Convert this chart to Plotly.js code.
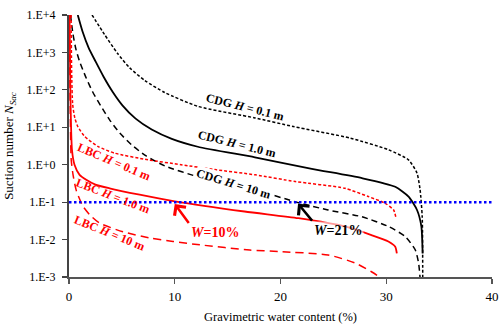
<!DOCTYPE html>
<html>
<head>
<meta charset="utf-8">
<script src="https://cdn.plot.ly/plotly-3.0.1.min.js"></script>
<style>html,body{margin:0;padding:0;background:#fff;}#chart{width:500px;height:327px;}</style>
</head>
<body>
<div id="chart"></div>
<script>
// Gravimetric water content (%) and suction number values
const cdg01X = [2.18, 3.36, 4.60, 5.73, 7.16, 9.05, 12.18, 17.58, 21.2, 26.6, 30.2, 32.1, 32.9, 33.2, 33.4, 33.45];
const cdg01Y = [10000, 3020, 933, 389, 178, 85.1, 36.3, 17.8, 10.5, 5.13, 2.51, 1.35, 0.603, 0.214, 0.0407, 0.001];

const cdg10X = [0.83, 1.28, 1.85, 2.51, 3.27, 4.12, 5.07, 6.30, 7.82, 9.72, 12.18, 17.58, 22.96, 27.7, 30.85, 32.11, 32.91, 33.32, 33.44];
const cdg10Y = [10000, 3630, 1349, 575, 224, 89.1, 38.0, 17.0, 8.71, 4.90, 3.02, 1.58, 0.776, 0.437, 0.257, 0.141, 0.0617, 0.0224, 0.00427];

const cdg100X = [0.14, 0.38, 0.66, 1.0, 1.56, 2.23, 2.99, 3.84, 4.79, 5.92, 7.25, 9.05, 12.18, 17.58, 21.5, 24.5, 27.7, 30.2, 31.8, 32.75, 33.06, 33.2];
const cdg100Y = [10000, 3020, 1202, 575, 229, 89.1, 38.0, 15.8, 7.08, 3.39, 1.74, 0.933, 0.479, 0.214, 0.1, 0.0617, 0.0407, 0.0224, 0.0120, 0.00525, 0.00234, 0.00093];

const lbc01X = [0.2, 0.25, 0.35, 0.55, 0.83, 1.47, 2.73, 4.31, 7.47, 10.6, 13.8, 17.6, 21.4, 26.1, 28.3, 29.9, 30.7, 30.9];
const lbc01Y = [10000, 316, 39.8, 17.8, 10.5, 5.75, 3.09, 2.04, 1.35, 1.0, 0.741, 0.537, 0.355, 0.234, 0.141, 0.0933, 0.0617, 0.0407];

const lbc10X = [0.05, 0.14, 0.28, 0.52, 1.0, 1.63, 2.5, 3.84, 6.68, 10.0, 16.6, 21.7, 26.1, 28.6, 30.2, 30.85, 31.0];
const lbc10Y = [10000, 55, 2.51, 1.0, 0.537, 0.398, 0.295, 0.234, 0.158, 0.105, 0.0562, 0.0372, 0.0224, 0.0132, 0.00891, 0.00646, 0.00427];

const lbc100X = [0.05, 0.1, 0.21, 0.4, 0.7, 1.3, 2.0, 2.89, 5.1, 7.63, 9.84, 12.37, 17.1, 19.8, 24.5, 27.1, 28.6, 29.3, 29.5];
const lbc100Y = [10000, 100, 1.35, 0.501, 0.200, 0.0794, 0.0447, 0.0275, 0.0162, 0.0110, 0.00891, 0.00724, 0.00525, 0.00479, 0.00389, 0.00234, 0.00138, 0.00102, 0.00089];

const refX = [0, 40];
const refY = [0.1, 0.1];

const yTickVals = [0.001, 0.01, 0.1, 1, 10, 100, 1000, 10000];
const yTickText = ['1.E-3', '1.E-2', '1.E-1', '1.E+0', '1.E+1', '1.E+2', '1.E+3', '1.E+4'];
const xTickVals = [0, 10, 20, 30, 40];

const FONT = 'Liberation Serif, Times New Roman, serif';

function tr(x, y, color, width, dash) {
  return {x: x, y: y, type: 'scatter', mode: 'lines',
    line: {color: color, width: width, dash: dash, shape: 'spline', smoothing: 0.6},
    hoverinfo: 'skip', showlegend: false};
}

const traces = [
  tr(cdg01X, cdg01Y, '#000000', 1.5, '3px,2px'),
  tr(cdg10X, cdg10Y, '#000000', 1.8, 'solid'),
  tr(cdg100X, cdg100Y, '#000000', 1.5, '6px,4px'),
  tr(lbc01X, lbc01Y, '#ff0000', 1.5, '3px,2px'),
  tr(lbc10X, lbc10Y, '#ff0000', 1.8, 'solid'),
  tr(lbc100X, lbc100Y, '#ff0000', 1.5, '8px,5px'),
  {x: refX, y: refY, type: 'scatter', mode: 'lines',
    line: {color: '#0000ff', width: 2.5, dash: '2.5px,2.5px'}, hoverinfo: 'skip', showlegend: false}
];

function lab(text, x, ly, angle, color, size, bg) {
  return {text: text, x: x, y: ly, xref: 'x', yref: 'y', showarrow: false,
    textangle: angle, font: {family: FONT, size: size, color: color},
    bgcolor: bg || 'rgba(0,0,0,0)', borderpad: 0};
}

const annotations = [
  lab('<b>CDG <i>H</i> = 0.1 m</b>', 16.6, 1.55, 14, '#000', 12),
  lab('<b>CDG <i>H</i> = 1.0 m</b>', 15.9, 0.56, 14, '#000', 12),
  lab('<b>CDG <i>H</i> = 10 m</b>', 15.6, -0.52, 17, '#000', 12, '#ffffff'),
  lab('<b>LBC <i>H</i> = 0.1 m</b>', 4.3, 0.07, 23, '#ff0000', 12),
  lab('<b>LBC <i>H</i> = 1.0 m</b>', 4.15, -0.83, 21, '#ff0000', 12),
  lab('<b>LBC <i>H</i> = 10 m</b>', 3.84, -1.83, 22, '#ff0000', 12),
  {x: 10.0, y: -1.05, xref: 'x', yref: 'y', showarrow: true, text: '<b><i>W</i>=10%</b>',
    font: {family: FONT, size: 14, color: '#ff0000'}, xanchor: 'left', yanchor: 'top', borderpad: 1,
    ax: 14, ay: 19, arrowhead: 4, arrowsize: 1.1, arrowwidth: 2.5, arrowcolor: '#ff0000'},
  {x: 21.66, y: -1.04, xref: 'x', yref: 'y', showarrow: true, text: '<b><i>W</i>=21%</b>',
    font: {family: FONT, size: 14, color: '#000000'}, xanchor: 'left', yanchor: 'top', borderpad: 1,
    bgcolor: 'rgba(255,255,255,0.6)',
    ax: 14, ay: 17, arrowhead: 4, arrowsize: 1.1, arrowwidth: 2.5, arrowcolor: '#000000'}
];

const layout = {
  width: 500, height: 327,
  margin: {l: 69, r: 8, t: 15, b: 50},
  paper_bgcolor: '#ffffff', plot_bgcolor: '#ffffff',
  font: {family: FONT, color: '#000'},
  xaxis: {
    range: [0, 40], tickvals: xTickVals, ticks: 'outside', ticklen: 5, tickwidth: 1.2, tickcolor: '#555',
    showline: true, linecolor: '#555', linewidth: 1.8, showgrid: false, zeroline: false,
    tickfont: {family: FONT, size: 13, color: '#000'}, ticklabelstandoff: 2,
    title: {text: 'Gravimetric water content (%)', font: {family: FONT, size: 12.5, color: '#000'}, standoff: 9},
    automargin: false, fixedrange: true
  },
  yaxis: {
    type: 'log', range: [-3, 4], tickvals: yTickVals, ticktext: yTickText,
    ticks: 'outside', ticklen: 5, tickwidth: 1.2, tickcolor: '#444',
    showline: true, linecolor: '#444', linewidth: 2, showgrid: false, zeroline: false,
    tickfont: {family: FONT, size: 12, color: '#000'}, ticklabelstandoff: 4,
    title: {text: 'Suction number <i>N</i><sub><i>Sac</i></sub>', font: {family: FONT, size: 13, color: '#000'}, standoff: 10},
    automargin: false, fixedrange: true
  },
  annotations: annotations,
  showlegend: false
};

Plotly.newPlot('chart', traces, layout, {staticPlot: true, displayModeBar: false});
</script>
</body>
</html>
